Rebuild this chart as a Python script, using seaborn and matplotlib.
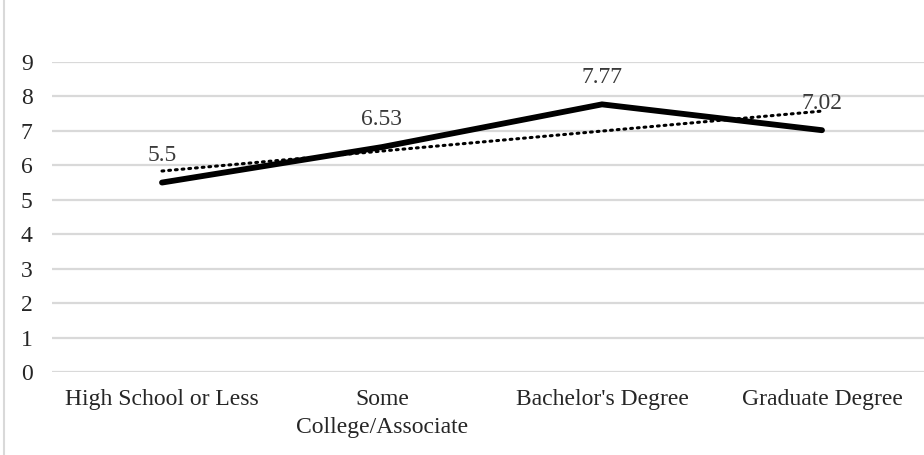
import numpy as np
import pandas as pd
import seaborn as sns
import matplotlib.pyplot as plt
from matplotlib.lines import Line2D

categories = ["High School or Less", "Some\nCollege/Associate",
              "Bachelor's Degree", "Graduate Degree"]
values = [5.5, 6.53, 7.77, 7.02]
value_labels = ["5.5", "6.53", "7.77", "7.02"]
y_ticks = list(range(0, 10))

sns.set_theme(style="white")
plt.rcParams["font.family"] = ["Liberation Serif", "DejaVu Serif"]

FS = 17
W, H = 924, 455
fig = plt.figure(figsize=(W / 100, H / 100), dpi=100)
left, right = 52, 932
bottom, top = 372, 62
ax = fig.add_axes([left / W, (H - bottom) / H, (right - left) / W, (bottom - top) / H])

df = pd.DataFrame({"pos": np.arange(len(categories)), "value": values})

# linear trendline (dotted)
sns.regplot(data=df, x="pos", y="value", ax=ax, ci=None, scatter=False,
            truncate=True,
            line_kws=dict(color="black", lw=2.2, linestyle=(0, (0.6, 1.6)),
                          dash_capstyle="round", zorder=3))
# main series
sns.lineplot(data=df, x="pos", y="value", ax=ax, color="black", lw=4.2,
             solid_capstyle="round", solid_joinstyle="miter", zorder=4)

for x, v, lab in zip(df["pos"], values, value_labels):
    ax.annotate(lab, (x, v), xytext=(0, 19.5), textcoords="offset points",
                ha="center", va="center", fontsize=FS, color="#3a3a3a")

ax.set_xlim(-0.5, len(categories) - 0.5)
ax.set_ylim(0, 9)
ax.set_yticks(y_ticks)
ax.set_xticks(df["pos"])
ax.set_xticklabels(categories, fontsize=FS, color="#262626",
                   linespacing=1.45)
ax.set_yticklabels([str(t) for t in y_ticks], fontsize=FS, color="#262626")
ax.tick_params(axis="y", length=0, pad=14)
ax.tick_params(axis="x", length=0, pad=12)
ax.set_xlabel("")
ax.set_ylabel("")
for s in ax.spines.values():
    s.set_visible(False)
ax.grid(axis="y", color="#d9d9d9", lw=1.6)
ax.grid(axis="x", visible=False)
ax.set_axisbelow(True)

fig.add_artist(Line2D([3.5 / W, 3.5 / W], [0, 1], color="#d9d9d9", lw=1.5))

fig.savefig("out.png", dpi=100)
